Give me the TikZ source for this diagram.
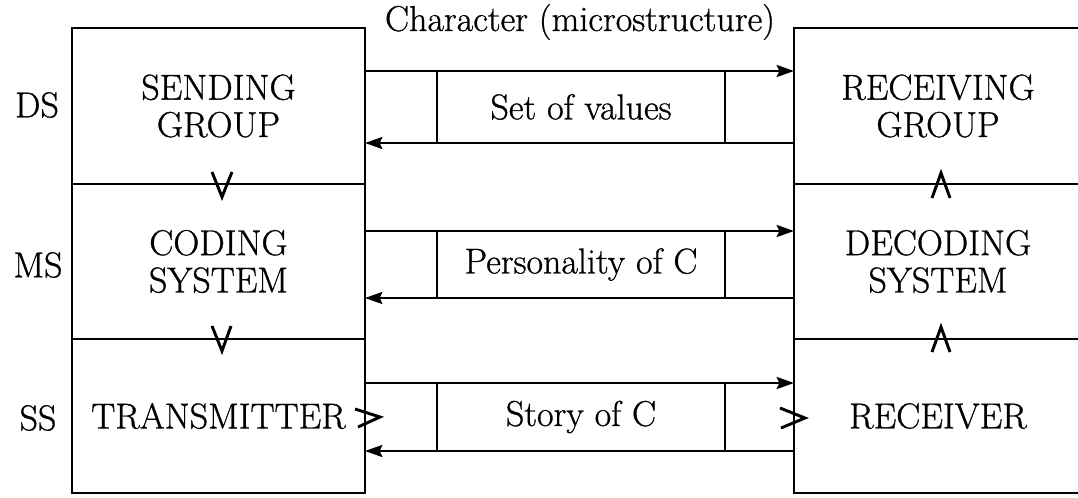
\documentclass[tikz,border=0pt]{standalone}
\usepackage{fontspec}
\setmainfont{Latin Modern Roman}[FakeBold=0.8]
\usetikzlibrary{arrows.meta}
\begin{document}
\begin{tikzpicture}[x=0.75pt,y=-0.75pt,
  txt/.style={font=\fontsize{27}{28}\selectfont, inner sep=0pt, align=center},
  cell/.style={draw, line width=2.2pt, inner sep=0pt, outer sep=0pt, align=center, font=\fontsize{27}{28}\selectfont},
  chan/.style={draw, line width=1.8pt, inner sep=0pt, outer sep=0pt, align=center, font=\fontsize{27}{28}\selectfont},
  arr/.style={line width=1.8pt, -{Stealth[length=13pt,width=9pt,inset=2pt]}},
  chev/.style={line width=2.2pt, line join=miter}]
\useasboundingbox (0,0) rectangle (1078,497);
\clip (0,0) rectangle (1078,497);
% left column
\node[cell, minimum width={293*0.75pt}, minimum height={156*0.75pt}] (sg) at (218.5,106) {SENDING\\GROUP};
\node[cell, minimum width={293*0.75pt}, minimum height={155*0.75pt}] (cs) at (218.5,261.5) {CODING\\SYSTEM};
\node[cell, minimum width={293*0.75pt}, minimum height={154*0.75pt}] (tr) at (218.5,416) {TRANSMITTER};
% right column
\node[cell, minimum width={288*0.75pt}, minimum height={156*0.75pt}] (rg) at (938,106) {RECEIVING\\GROUP};
\node[cell, minimum width={288*0.75pt}, minimum height={155*0.75pt}] (dsys) at (938,261.5) {DECODING\\SYSTEM};
\node[cell, minimum width={288*0.75pt}, minimum height={154*0.75pt}] (rc) at (938,416) {RECEIVER};
% channels
\node[chan, minimum width={288*0.75pt}, minimum height={72*0.75pt}] (v1) at (581,107) {Set of values};
\node[chan, minimum width={288*0.75pt}, minimum height={67*0.75pt}] (v2) at (581,264.5) {Personality of C};
\node[chan, minimum width={288*0.75pt}, minimum height={68*0.75pt}] (v3) at (581,417) {Story of C};
% arrows
\draw[arr] (sg.east |- v1.north) -- (rg.west |- v1.north);
\draw[arr] (rg.west |- v1.south) -- (sg.east |- v1.south);
\draw[arr] (cs.east |- v2.north) -- (dsys.west |- v2.north);
\draw[arr] (dsys.west |- v2.south) -- (cs.east |- v2.south);
\draw[arr] (tr.east |- v3.north) -- (rc.west |- v3.north);
\draw[arr] (rc.west |- v3.south) -- (tr.east |- v3.south);
% chevrons
\draw[chev] ([shift={(-6.5,-12)}]sg.south) -- ([shift={(3.5,13)}]sg.south) -- ([shift={(13.5,-12)}]sg.south);
\draw[chev] ([shift={(-6.5,-13)}]cs.south) -- ([shift={(3.5,12)}]cs.south) -- ([shift={(12.5,-13)}]cs.south);
\draw[chev] ([shift={(-6,14)}]rg.south) -- ([shift={(3,-11)}]rg.south) -- ([shift={(12,14)}]rg.south);
\draw[chev] ([shift={(-6,13)}]dsys.south) -- ([shift={(3,-12)}]dsys.south) -- ([shift={(12,13)}]dsys.south);
\draw[chev] ([shift={(-10,-7)}]tr.east) -- ([shift={(15,1)}]tr.east) -- ([shift={(-7,11)}]tr.east);
\draw[chev] ([shift={(-14,-8)}]rc.west) -- ([shift={(11,2)}]rc.west) -- ([shift={(-13,12)}]rc.west);
% labels
\node[txt] (title) at (580,22) {Character (microstructure)};
\node[txt] (lds) at (37,105) {DS};
\node[txt] (lms) at (38,265) {MS};
\node[txt] (lss) at (38,418) {SS};
\end{tikzpicture}
\end{document}
